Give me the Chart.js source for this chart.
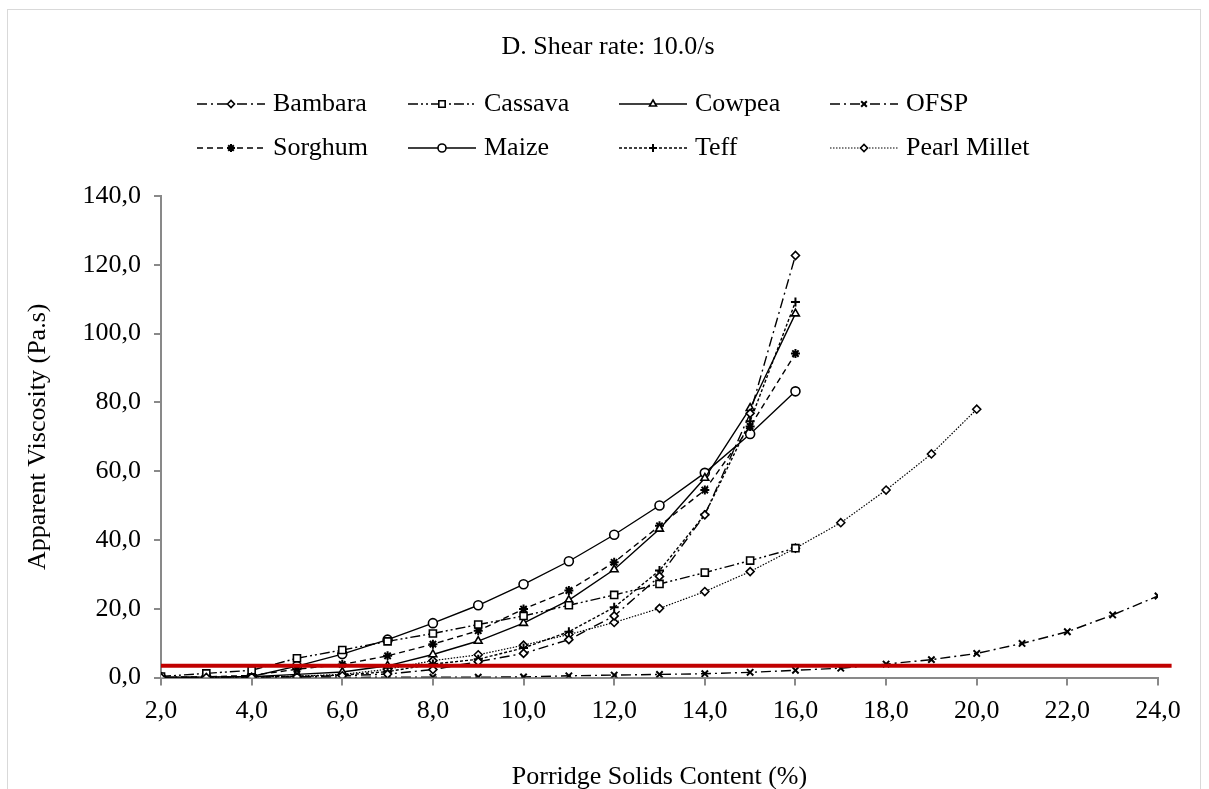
<!DOCTYPE html>
<html><head><meta charset="utf-8">
<script src="https://cdn.jsdelivr.net/npm/chart.js@4/dist/chart.umd.min.js"></script>
<style>
html,body{margin:0;padding:0;background:#fff;}
#wrap{position:relative;width:1209px;height:789px;overflow:hidden;background:#fff;}
#frame{position:absolute;left:7px;top:9px;width:1194px;height:900px;border:1px solid #d9d9d9;box-sizing:border-box;}
canvas{position:absolute;left:0;top:0;}
</style></head><body>
<div id="wrap"><div id="frame"></div><canvas id="c" width="1209" height="789"></canvas></div>
<script>
// ---- text ----
const titleText = 'D. Shear rate: 10.0/s';
const xTitle = 'Porridge Solids Content (%)';
const yTitle = 'Apparent Viscosity (Pa.s)';

// ---- categories (solids content, %) ----
const solidsTo16 = [2,3,4,5,6,7,8,9,10,11,12,13,14,15,16];
const solidsTo20 = [2,3,4,5,6,7,8,9,10,11,12,13,14,15,16,17,18,19,20];
const solidsTo24 = [2,3,4,5,6,7,8,9,10,11,12,13,14,15,16,17,18,19,20,21,22,23,24];

// ---- series values (apparent viscosity, Pa.s) ----
const bambara = [0.0,0.0,0.1,0.2,0.5,1.0,2.3,4.6,7.0,11.0,17.9,29.4,47.3,76.8,122.7];
const cassava = [0.3,1.2,2.1,5.6,8.0,10.5,12.8,15.4,17.9,21.0,24.0,27.2,30.5,34.0,37.6];
const cowpea  = [0.0,0.0,0.2,0.9,1.6,3.4,6.7,10.6,15.8,22.5,31.4,43.2,58.0,78.3,105.8];
const ofsp    = [0.0,0.0,0.0,0.0,0.0,0.1,0.1,0.1,0.15,0.5,0.7,0.9,1.1,1.5,2.1,2.7,3.9,5.2,7.0,9.9,13.3,18.2,23.7];
const sorghum = [0.0,0.2,0.6,2.4,3.8,6.3,9.7,13.6,19.9,25.3,33.5,44.1,54.5,73.0,94.2];
const maize   = [0.0,0.1,0.3,3.3,6.8,11.0,15.8,21.0,27.1,33.8,41.5,50.0,59.5,70.8,83.2];
const teff    = [0.0,0.0,0.1,0.3,0.7,1.7,3.9,5.3,8.6,13.3,20.4,31.1,47.4,74.5,109.2];
const pearlMillet = [0.0,0.0,0.2,0.4,0.9,2.4,4.9,6.6,9.4,12.5,16.0,20.1,25.0,30.8,37.6,45.0,54.5,65.0,78.0];

// ---- reference threshold line ----
const thresholdX = [2, 24.3];
const thresholdY = [3.4, 3.4];

// ---- tick labels ----
const xTicks = [2,4,6,8,10,12,14,16,18,20,22,24];
const yTicks = [0,20,40,60,80,100,120,140];

const FONT = '"Liberation Serif", "Times New Roman", serif';
const pts = (xs, ys) => xs.map((x, i) => ({x: x, y: ys[i]}));

function series(label, xs, ys, style, dash, width) {
  return {
    label: label, data: pts(xs, ys), borderColor: '#000', borderWidth: width || 1.4,
    borderDash: dash, pointStyle: style, pointRadius: 4.5, pointBorderWidth: 1.6,
    pointBackgroundColor: '#fff', pointBorderColor: '#000', tension: 0, fill: false
  };
}

const dsBambara = series('Bambara', solidsTo16, bambara, 'rectRot', [10,4,2,4]);
const dsCassava = series('Cassava', solidsTo16, cassava, 'rect', [10,3,2,3,2,3]);
const dsCowpea  = series('Cowpea',  solidsTo16, cowpea,  'triangle', []);
const dsOfsp    = series('OFSP',    solidsTo24, ofsp,    'crossRot', [10,4,2,4]);
const dsSorghum = series('Sorghum', solidsTo16, sorghum, 'star', [6,4]);
const dsMaize   = series('Maize',   solidsTo16, maize,   'circle', []);
const dsTeff    = series('Teff',    solidsTo16, teff,    'cross', [3,2]);
const dsPearl   = series('Pearl Millet', solidsTo20, pearlMillet, 'rectRot', [1.5,1.5], 1.2);
dsBambara.pointRadius = 4; dsPearl.pointRadius = 4;
dsOfsp.pointRadius = 4.5; dsOfsp.pointBorderWidth = 2;
dsSorghum.pointBorderWidth = 2; dsTeff.pointBorderWidth = 2;
dsCassava.pointRadius = 5;

const threshold = {
  label: 'threshold', data: pts(thresholdX, thresholdY), borderColor: '#c00000',
  borderWidth: 4, pointRadius: 0, clip: false, order: -1, tension: 0
};

const legendRows = [[dsBambara, dsCassava, dsCowpea, dsOfsp], [dsSorghum, dsMaize, dsTeff, dsPearl]];

const fmt = v => Number(v).toFixed(1).replace('.', ',');

const decor = {
  id: 'decor',
  afterDraw(chart) {
    const ctx = chart.ctx;
    ctx.save();
    ctx.fillStyle = '#000';
    ctx.font = '26px ' + FONT;
    ctx.textAlign = 'center';
    ctx.textBaseline = 'middle';
    ctx.fillText(titleText, 608, 47);
    const colX = [197, 408, 619, 830];
    const rowY = [104, 148];
    legendRows.forEach((row, r) => {
      row.forEach((ds, c) => {
        const x0 = colX[c], y = rowY[r];
        ctx.save();
        ctx.strokeStyle = '#000';
        ctx.lineWidth = ds.borderWidth;
        ctx.setLineDash(ds.borderDash || []);
        ctx.beginPath(); ctx.moveTo(x0, y); ctx.lineTo(x0 + 68, y); ctx.stroke();
        ctx.setLineDash([]);
        ctx.fillStyle = '#fff';
        ctx.lineWidth = ds.pointBorderWidth;
        Chart.helpers.drawPoint(ctx, {pointStyle: ds.pointStyle, radius: ds.pointRadius - 0.5, borderWidth: ds.pointBorderWidth, rotation: 0}, x0 + 34, y);
        ctx.restore();
        ctx.fillStyle = '#000';
        ctx.font = '26px ' + FONT;
        ctx.textAlign = 'left';
        ctx.textBaseline = 'middle';
        ctx.fillText(ds.label, x0 + 76, y);
      });
    });
    ctx.restore();
  }
};

new Chart(document.getElementById('c'), {
  type: 'line',
  data: { datasets: [threshold, dsBambara, dsCassava, dsCowpea, dsOfsp, dsSorghum, dsMaize, dsTeff, dsPearl] },
  options: {
    responsive: false, animation: false, devicePixelRatio: 1,
    layout: { padding: { top: 196, right: 51, left: 0, bottom: 0 } },
    plugins: { legend: { display: false }, tooltip: { enabled: false }, title: { display: false } },
    scales: {
      x: {
        type: 'linear', min: 2, max: 24,
        afterBuildTicks: s => { s.ticks = xTicks.map(v => ({value: v})); },
        afterFit: s => { s.height = 111.5; },
        ticks: { callback: v => fmt(v), color: '#000', padding: 10.5, maxRotation: 0, autoSkip: false,
                 font: { family: FONT, size: 26 } },
        grid: { drawOnChartArea: false, drawTicks: true, tickLength: 8, color: '#898989', lineWidth: 2 },
        border: { display: true, color: '#898989', width: 2 },
        title: { display: true, text: xTitle, color: '#000', padding: { top: 0, bottom: 0 },
                 font: { family: FONT, size: 26, lineHeight: '24px' } }
      },
      y: {
        type: 'linear', min: 0, max: 140,
        afterBuildTicks: s => { s.ticks = yTicks.map(v => ({value: v})); },
        afterFit: s => { s.width = 161; },
        ticks: { callback: v => fmt(v), color: '#000', padding: 13, font: { family: FONT, size: 26 } },
        grid: { drawOnChartArea: false, drawTicks: true, tickLength: 7, color: '#898989', lineWidth: 2 },
        border: { display: true, color: '#898989', width: 2 },
        title: { display: true, text: yTitle, color: '#000', padding: { top: 23, bottom: 0 },
                 font: { family: FONT, size: 26 } }
      }
    }
  },
  plugins: [decor]
});
</script>
</body></html>
